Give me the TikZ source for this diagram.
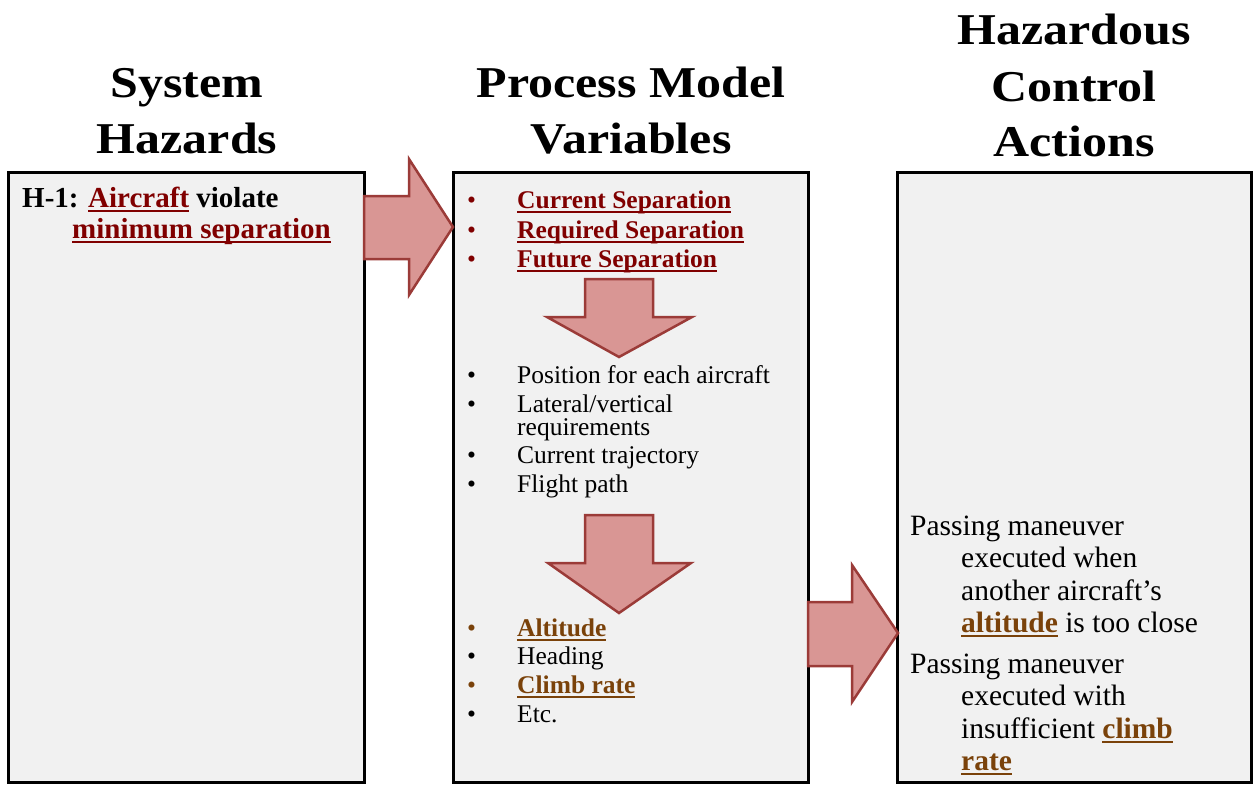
\documentclass[tikz,border=0pt]{standalone}
\usepackage{fontspec}
\usepackage{graphicx}
\setmainfont{Liberation Serif}

% colours
\definecolor{panelfill}{RGB}{241,241,241}
\definecolor{arrowfill}{RGB}{217,150,148}
\definecolor{arrowline}{RGB}{155,59,56}
\definecolor{hazred}{RGB}{128,0,0}
\definecolor{varbrown}{RGB}{122,66,10}

% underline with a solid rule in the current colour
\newcommand\ulin[1]{\begingroup\setbox0=\hbox{#1}\rlap{\rule[-4.5pt]{\wd0}{2pt}}\box0\endgroup}
% slightly condensed heading text
\newcommand\headtext[1]{\scalebox{1}[0.88]{#1}}

\tikzset{
  panel/.style={draw=black, line width=3pt, fill=panelfill},
  blockarrow/.style={draw=arrowline, line width=2.5pt, fill=arrowfill, line join=miter},
  title/.style={inner sep=0pt, anchor=base, font=\fontsize{50}{55}\selectfont\bfseries},
  txt/.style={inner sep=0pt, anchor=base west},
  lefttxt/.style={txt, font=\fontsize{29}{33}\selectfont\bfseries},
  listtxt/.style={txt, font=\fontsize{25.5}{29}\selectfont},
  righttxt/.style={txt, font=\fontsize{29.5}{33}\selectfont},
}

\begin{document}
\begin{tikzpicture}[x=1pt, y=-1pt]
\useasboundingbox (0,0) rectangle (1255,785);

% panels
\draw[panel] (8,172) rectangle (364,782) coordinate (hazbox);
\draw[panel] (453,172) rectangle (808,782) coordinate (varbox);
\draw[panel] (897,172) rectangle (1251,782) coordinate (actbox);

% block arrows
\draw[blockarrow] (364,196) -- (409,196) -- (409,159) -- (453,227) -- (409,295) -- (409,259) -- (364,259) -- cycle;
\draw[blockarrow] (585,279) -- (653,279) -- (653,317) -- (692,317) -- (619,357) -- (547,317) -- (585,317) -- cycle;
\draw[blockarrow] (585,515) -- (653,515) -- (653,563) -- (691,563) -- (619,613) -- (548,563) -- (585,563) -- cycle;
\draw[blockarrow] (808,602) -- (852,602) -- (852,565) -- (898,633) -- (852,702) -- (852,666) -- (808,666) -- cycle;

% column titles
\node[title] (t1a) at (187,97) {\headtext{System}};
\node[title] (t1b) at (187,153) {\headtext{Hazards}};
\node[title] (t2a) at (631,97) {\headtext{Process Model}};
\node[title] (t2b) at (631,153) {\headtext{Variables}};
\node[title] (t3a) at (1074,44) {\headtext{Hazardous}};
\node[title] (t3b) at (1074,101) {\headtext{Control}};
\node[title] (t3c) at (1074,156) {\headtext{Actions}};

% system hazard
\node[lefttxt] (h1a) at (22,207) {H-1: \textcolor{hazred}{\ulin{Aircraft}} violate};
\node[lefttxt, text=hazred] (h1b) at (72,238) {\ulin{minimum separation}};

% process model variables: separation
\foreach \y/\name/\label in {208/sepa/Current Separation, 238/sepb/Required Separation, 267/sepc/Future Separation}{
  \node[listtxt, text=hazred] (b\name) at (467,\y) {•};
  \node[listtxt, text=hazred, font=\fontsize{25.5}{29}\selectfont\bfseries] (\name) at (517,\y) {\ulin{\label}};
}

% process model variables: inputs
\node[listtxt] (bpos) at (467,383) {•};
\node[listtxt] (pos) at (517,383) {Position for each aircraft};
\node[listtxt] (blat) at (467,412) {•};
\node[listtxt] (lat) at (517,412) {Lateral/vertical};
\node[listtxt] (req) at (517,435) {requirements};
\node[listtxt] (btraj) at (467,463) {•};
\node[listtxt] (traj) at (517,463) {Current trajectory};
\node[listtxt] (bpath) at (467,492) {•};
\node[listtxt] (path) at (517,492) {Flight path};

% process model variables: states
\node[listtxt, text=varbrown] (balt) at (467,636) {•};
\node[listtxt, text=varbrown, font=\fontsize{25.5}{29}\selectfont\bfseries] (alt) at (517,636) {\ulin{Altitude}};
\node[listtxt] (bhead) at (467,664) {•};
\node[listtxt] (head) at (517,664) {Heading};
\node[listtxt, text=varbrown] (bclimb) at (467,693) {•};
\node[listtxt, text=varbrown, font=\fontsize{25.5}{29}\selectfont\bfseries] (climb) at (517,693) {\ulin{Climb rate}};
\node[listtxt] (betc) at (467,722) {•};
\node[listtxt] (etc) at (517,722) {Etc.};

% hazardous control actions
\node[righttxt] (hca1a) at (910,535) {Passing maneuver};
\node[righttxt] (hca1b) at (961,567) {executed when};
\node[righttxt] (hca1c) at (961,600) {another aircraft’s};
\node[righttxt] (hca1d) at (961,632) {\textcolor{varbrown}{\bfseries\ulin{altitude}} is too close};
\node[righttxt] (hca2a) at (910,673) {Passing maneuver};
\node[righttxt] (hca2b) at (961,705) {executed with};
\node[righttxt] (hca2c) at (961,738) {insufficient \textcolor{varbrown}{\bfseries\ulin{climb}}};
\node[righttxt] (hca2d) at (961,770) {\textcolor{varbrown}{\bfseries\ulin{rate}}};
\end{tikzpicture}
\end{document}
